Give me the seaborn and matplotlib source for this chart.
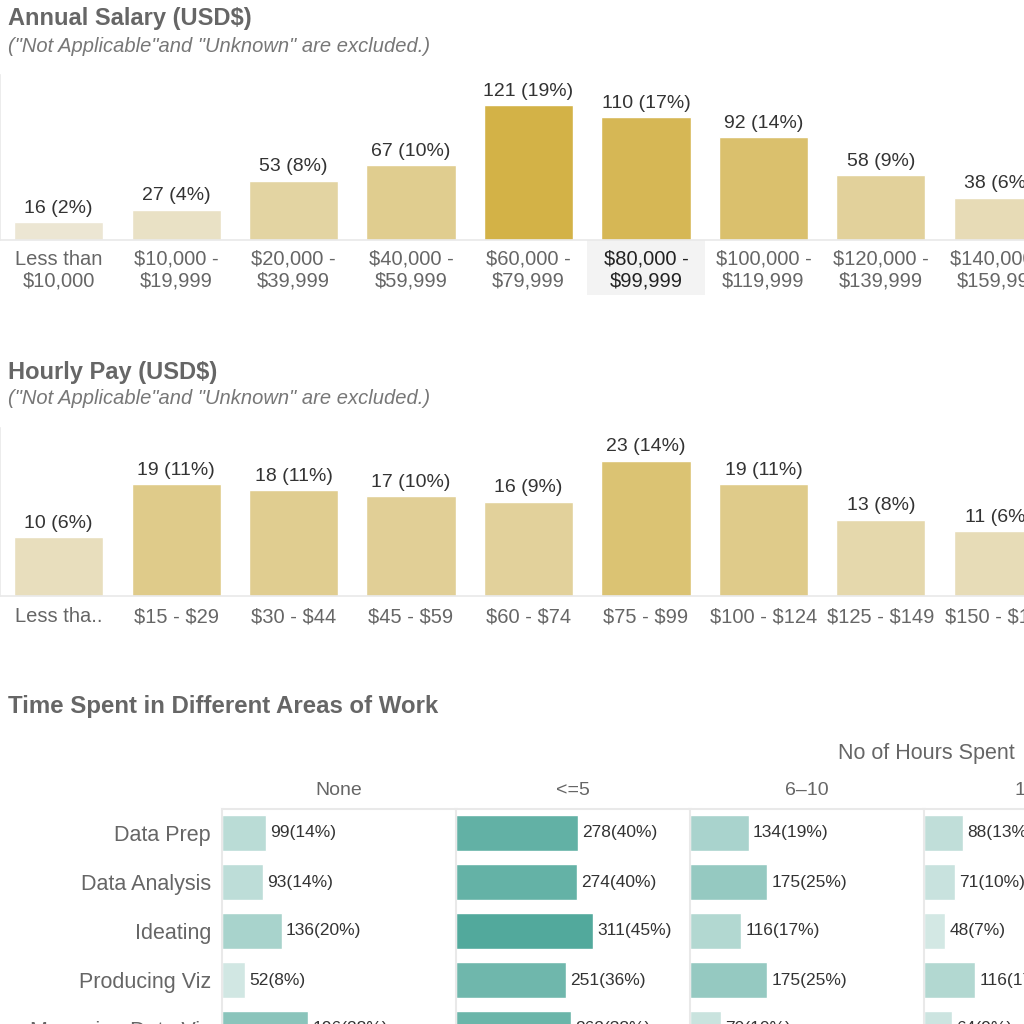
import matplotlib.pyplot as plt
import seaborn as sns
from matplotlib.colors import LinearSegmentedColormap, Normalize
from matplotlib.patches import Rectangle

sns.set_style('white')
plt.rcParams['font.family'] = ['Liberation Sans', 'DejaVu Sans']
plt.rcParams['text.parse_math'] = False  # dollar signs are plain text here

# ---- data ----
salary_bins = ['Less than\n$10,000', '$10,000 -\n$19,999', '$20,000 -\n$39,999',
               '$40,000 -\n$59,999', '$60,000 -\n$79,999', '$80,000 -\n$99,999',
               '$100,000 -\n$119,999', '$120,000 -\n$139,999', '$140,000 -\n$159,999']
salary_count = [16, 27, 53, 67, 121, 110, 92, 58, 38]
salary_pct = [2, 4, 8, 10, 19, 17, 14, 9, 6]

hourly_bins = ['Less tha..', '$15 - $29', '$30 - $44', '$45 - $59', '$60 - $74',
               '$75 - $99', '$100 - $124', '$125 - $149', '$150 - $174']
hourly_count = [10, 19, 18, 17, 16, 23, 19, 13, 11]
hourly_pct = [6, 11, 11, 10, 9, 14, 11, 8, 6]

work_areas = ['Data Prep', 'Data Analysis', 'Ideating', 'Producing Viz', 'Managing Data Viz']
hour_groups = ['None', '<=5', '6–10', '11–20']
none_count = [99, 93, 136, 52, 196]
none_pct = [14, 14, 20, 8, 28]
le5_count = [278, 274, 311, 251, 262]
le5_pct = [40, 40, 45, 36, 38]
h6_10_count = [134, 175, 116, 175, 70]
h6_10_pct = [19, 25, 17, 25, 10]
h11_20_count = [88, 71, 48, 116, 64]
h11_20_pct = [13, 10, 7, 17, 9]

W, H = 1024, 1024
fig = plt.figure(figsize=(W / 100, H / 100), dpi=100)

gold_cmap = LinearSegmentedColormap.from_list('gold', ['#ece6d3', '#d3b247'])
teal_cmap = LinearSegmentedColormap.from_list('teal', ['#dcece9', '#52a99c'])

GRID = '#e9e9e9'
TXT = '#666666'
DARK = '#333333'


def px_axes(left, top, right, bottom):
    return fig.add_axes([left / W, 1 - bottom / H, (right - left) / W, (bottom - top) / H])


def gold_bars(ax, cats, counts, pcts, norm, ymax, pad):
    colors = [gold_cmap(norm(v)) for v in counts]
    sns.barplot(x=cats, y=counts, hue=cats, palette=colors, legend=False,
                width=0.76, saturation=1, ax=ax)
    for i, cont in enumerate(ax.containers):
        ax.bar_label(cont, labels=[f'{counts[i]} ({pcts[i]}%)'], padding=4,
                     fontsize=14, color=DARK)
    ax.set_xlim(-0.5, len(cats) - 0.5)
    ax.set_ylim(0, ymax)
    ax.set_xlabel('')
    ax.set_ylabel('')
    for s in ['top', 'right']:
        ax.spines[s].set_visible(False)
    for s in ['left', 'bottom']:
        ax.spines[s].set_color(GRID)
        ax.spines[s].set_linewidth(1.2)
    ax.set_yticks([])
    ax.tick_params(axis='x', length=0, pad=pad, labelsize=14.5, labelcolor=TXT)
    ax.set_xticks([i - 0.5 for i in range(1, len(cats))], minor=True)
    ax.tick_params(axis='x', which='minor', length=8, color='#eeeeee', width=1.2)
    for lbl in ax.get_xticklabels():
        lbl.set_linespacing(1.2)


# ---- Annual salary ----
ax1 = px_axes(0, 75, 1057, 240)
gold_bars(ax1, salary_bins, salary_count, salary_pct, Normalize(16, 121), 148, pad=7)
# hovered cell highlight
ax1.add_patch(Rectangle((4.5, -49.3), 1.0, 49.3, facecolor='#f3f3f3', edgecolor='none',
                        clip_on=False, zorder=0))
ax1.get_xticklabels()[5].set_color('#222222')

fig.text(8 / W, 1 - 19 / H, 'Annual Salary (USD$)', fontsize=17, fontweight='bold',
         color=TXT, va='center')
fig.text(8 / W, 1 - 46 / H, '("Not Applicable"and "Unknown" are excluded.)', fontsize=14.5,
         style='italic', color='#777777', va='center')

# ---- Hourly pay ----
ax2 = px_axes(0, 428, 1057, 596)
gold_bars(ax2, hourly_bins, hourly_count, hourly_pct, Normalize(6, 31), 28.6, pad=8)

fig.text(8 / W, 1 - 372 / H, 'Hourly Pay (USD$)', fontsize=17, fontweight='bold',
         color=TXT, va='center')
fig.text(8 / W, 1 - 399 / H, '("Not Applicable"and "Unknown" are excluded.)', fontsize=14.5,
         style='italic', color='#777777', va='center')

# ---- Time spent ----
fig.text(8 / W, 1 - 707 / H, 'Time Spent in Different Areas of Work', fontsize=17.3,
         fontweight='bold', color=TXT, va='center')
fig.text(1015 / W, 1 - 753 / H, 'No of Hours Spent', fontsize=15.5, color=TXT,
         ha='right', va='center')

teal_norm = Normalize(30, 311)
columns = [(none_count, none_pct), (le5_count, le5_pct),
           (h6_10_count, h6_10_pct), (h11_20_count, h11_20_pct)]
for k, (group, (counts, pcts)) in enumerate(zip(hour_groups, columns)):
    left = 222 + 234 * k
    ax = px_axes(left, 808.5, left + 234, 1053.5)
    colors = [teal_cmap(teal_norm(v)) for v in counts]
    sns.barplot(x=counts, y=work_areas, hue=work_areas, palette=colors, legend=False,
                orient='h', width=0.74, saturation=1, ax=ax)
    for i, cont in enumerate(ax.containers):
        ax.bar_label(cont, labels=[f'{counts[i]}({pcts[i]}%)'], padding=3,
                     fontsize=12.5, color=DARK)
    ax.set_xlim(0, 532)
    ax.set_ylim(4.5, -0.5)
    ax.set_xlabel('')
    ax.set_ylabel('')
    ax.set_xticks([])
    for s in ['bottom', 'right']:
        ax.spines[s].set_visible(False)
    for s in ['top', 'left']:
        ax.spines[s].set_color(GRID)
        ax.spines[s].set_linewidth(1.5)
    if k == 0:
        ax.tick_params(axis='y', length=0, pad=8, labelsize=15.5, labelcolor=TXT)
    else:
        ax.tick_params(axis='y', length=0, labelleft=False)
    ax.annotate(group, xy=(0.5, 1), xycoords='axes fraction', xytext=(0, 13),
                textcoords='offset points', ha='center', va='center',
                fontsize=14, color=TXT)

fig.savefig('out.png', dpi=100)
